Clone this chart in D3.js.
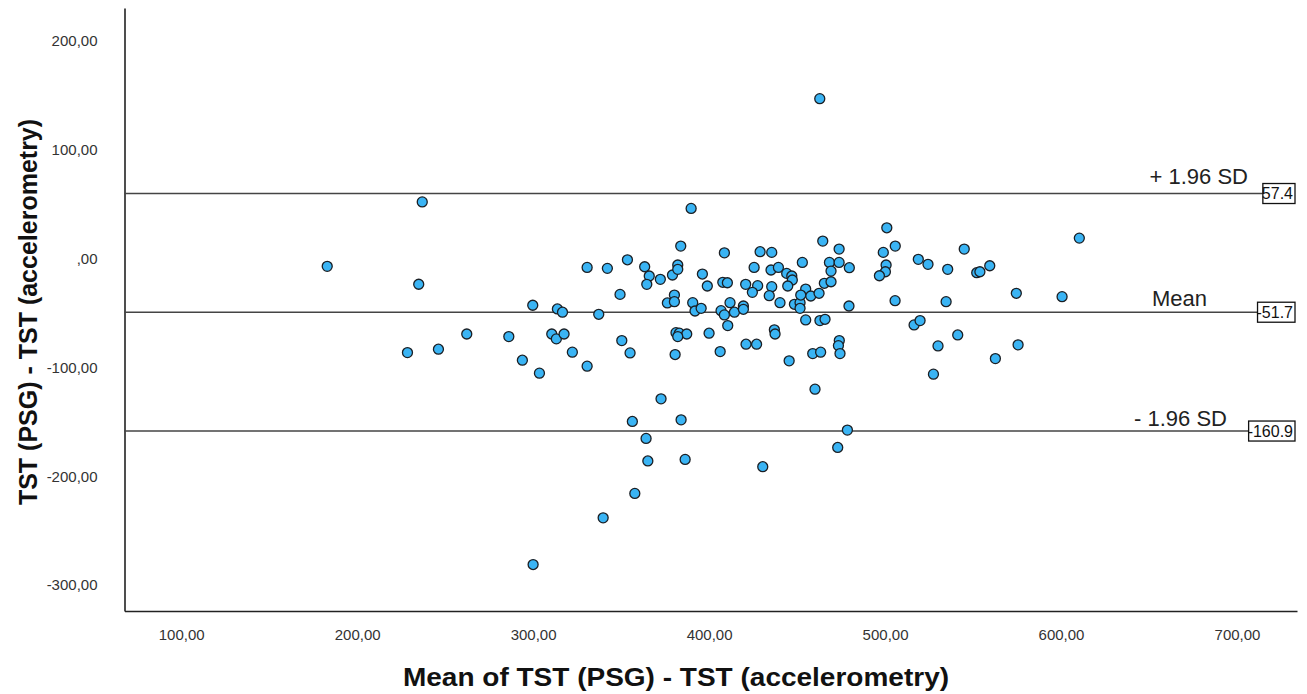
<!DOCTYPE html>
<html>
<head>
<meta charset="utf-8">
<script src="https://cdn.jsdelivr.net/npm/d3@7"></script>
<style>
  body { margin: 0; background: #fff; }
  svg { display: block; font-family: Arial, "Liberation Sans", sans-serif; }
</style>
</head>
<body>
<div id="graphic"></div>
<script>
// x: mean of TST (PSG) and TST (accelerometry), y: their difference, one entry per subject
const meanTST = [
  183.0, 237.0, 235.0, 228.6, 246.2, 389.8, 383.9, 408.7, 429.0, 425.6,
  330.7, 342.2, 353.6, 363.4, 366.0, 364.6, 372.3, 379.2, 382.2, 382.2,
  396.2, 399.0, 407.8, 410.4, 420.8, 427.6, 424.6, 349.4, 299.8, 313.8,
  316.7, 337.3, 380.3, 376.3, 380.3, 390.7, 392.0, 395.5, 406.8, 408.7,
  411.9, 414.4, 419.5, 419.5, 410.6, 262.3, 286.2, 293.9, 303.6, 310.6,
  313.2, 317.6, 322.3, 330.7, 350.4, 355.1, 381.2, 383.1, 387.3, 382.2,
  380.7, 400.0, 406.3, 421.0, 427.0, 372.7, 356.4, 384.1, 364.2, 365.2,
  386.4, 430.5, 357.8, 339.8, 300.0, 462.9, 501.0, 610.4, 464.6, 473.9,
  499.0, 505.8, 545.0, 435.6, 453.0, 468.4, 473.9, 479.7, 518.9, 524.4,
  535.6, 559.5, 552.1, 553.9, 500.6, 500.2, 496.8, 435.2, 439.4, 444.1,
  447.0, 447.3, 435.6, 434.2, 444.7, 440.3, 448.5, 451.7, 451.7, 454.9,
  452.1, 457.8, 462.5, 465.5, 469.3, 469.3, 479.5, 505.7, 534.7, 574.6,
  600.6, 454.9, 463.0, 465.9, 516.5, 519.9, 437.1, 437.5, 445.5, 458.9,
  463.4, 474.0, 473.5, 474.4, 460.2, 478.6, 473.1, 530.1, 541.3, 527.5,
  562.7, 575.6
];

const diffTST = [
  -9.5, 49.7, -26.0, -88.8, -85.7, 43.7, 9.1, 2.9, 3.9, -10.5,
  -10.5, -11.4, -3.5, -9.9, -18.4, -26.1, -21.5, -17.5, -8.3, -12.3,
  -16.6, -27.6, -24.2, -24.6, -26.1, -27.3, -33.4, -35.3, -45.3, -48.7,
  -51.7, -53.6, -35.9, -43.2, -42.0, -42.9, -50.6, -48.1, -50.3, -54.2,
  -42.9, -51.7, -46.0, -49.0, -64.0, -71.7, -74.1, -95.8, -107.7, -71.7,
  -76.2, -71.7, -88.4, -101.3, -77.8, -89.1, -70.5, -71.0, -71.7, -74.1,
  -90.6, -71.0, -87.9, -81.1, -81.1, -131.3, -152.1, -150.6, -167.7, -188.4,
  -187.0, -193.7, -218.2, -240.7, -283.6, 144.6, 25.9, 16.4, 13.7, 6.3,
  3.3, 9.1, 6.3, 3.3, -5.9, -5.9, -5.9, -10.8, -3.1, -7.7,
  -12.3, -9.0, -15.4, -14.5, -8.3, -14.5, -18.2, -12.9, -10.5, -16.0,
  -18.4, -22.1, -28.2, -36.5, -27.6, -42.9, -44.4, -42.9, -48.1, -30.4,
  -35.9, -36.8, -34.3, -25.1, -23.7, -13.9, -46.0, -41.1, -42.0, -34.3,
  -37.4, -58.8, -59.4, -58.2, -63.4, -59.4, -67.9, -71.7, -96.4, -89.7,
  -88.4, -77.8, -82.4, -89.7, -122.4, -160.0, -176.0, -82.7, -72.6, -108.6,
  -94.3, -81.7
];

const xTicks = [100, 200, 300, 400, 500, 600, 700];
const yTicks = [200, 100, 0, -100, -200, -300];

// limits of agreement and the mean difference
const limitValues = [57.4, -51.7, -160.9];
const limitNames = ['+ 1.96 SD', 'Mean', '- 1.96 SD'];
const limitTags = ['57.4', '-51.7', '-160.9'];
const limitNameRight = [1248, 1207, 1227];
const limitNameLift = [10, 6, 5];

const width = 1307;
const height = 694;
const plot = { left: 124.5, right: 1297, top: 8, bottom: 611 };

const x = d3.scaleLinear()
  .domain([67.8, 734.1])
  .range([plot.left, plot.right]);

const y = d3.scaleLinear()
  .domain([-326.3, 227.9])
  .range([plot.bottom, plot.top]);

// spss style numbers: comma decimal, plain hyphen, ",00" for zero
const locale = d3.formatLocale({ decimal: ',', thousands: '.', grouping: [3], currency: ['', ''], minus: '-' });
const fmt = (d) => {
  const s = locale.format('.2f')(d);
  return d === 0 ? s.slice(1) : s;
};

const svg = d3.select('#graphic').append('svg')
  .attr('width', width)
  .attr('height', height);

svg.append('rect')
  .attr('width', width)
  .attr('height', height)
  .attr('fill', '#fff');

// axes
const xAxis = d3.axisBottom(x).tickValues(xTicks).tickFormat(fmt).tickSize(0).tickPadding(18);
const yAxis = d3.axisLeft(y).tickValues(yTicks).tickFormat(fmt).tickSize(0).tickPadding(27);

const gx = svg.append('g')
  .attr('transform', 'translate(0,' + plot.bottom + ')')
  .call(xAxis);

const gy = svg.append('g')
  .attr('transform', 'translate(' + plot.left + ',0)')
  .call(yAxis);

[gx, gy].forEach((g) => {
  g.select('.domain').attr('stroke', '#222').attr('stroke-width', 1.6);
  g.selectAll('text')
    .attr('fill', '#333')
    .style('font-size', '15px');
});
gy.selectAll('text').attr('dy', '0.5em');

// reference lines with their tags
const limits = svg.selectAll('.limit')
  .data(limitValues)
  .enter()
  .append('g')
  .attr('class', 'limit');

limits.each(function (d, i) {
  const g = d3.select(this);
  const yy = y(d);

  const tag = g.append('text')
    .attr('x', plot.right - 4)
    .attr('y', yy)
    .attr('dy', '0.36em')
    .attr('text-anchor', 'end')
    .style('font-size', '16px')
    .attr('fill', '#111')
    .text(limitTags[i]);

  const tw = tag.node().getComputedTextLength();
  const boxLeft = plot.right - 2 - tw - 1;

  g.insert('rect', 'text')
    .attr('x', boxLeft)
    .attr('y', yy - 10)
    .attr('width', plot.right - 2 - boxLeft)
    .attr('height', 20)
    .attr('fill', '#fff')
    .attr('stroke', '#111')
    .attr('stroke-width', 1.3);

  g.insert('line', 'rect')
    .attr('x1', plot.left)
    .attr('x2', boxLeft)
    .attr('y1', yy)
    .attr('y2', yy)
    .attr('stroke', '#444')
    .attr('stroke-width', 1.6);

  g.append('text')
    .attr('x', limitNameRight[i])
    .attr('y', yy - limitNameLift[i])
    .attr('text-anchor', 'end')
    .style('font-size', '22px')
    .attr('fill', '#222')
    .text(limitNames[i]);
});

// points
svg.append('g')
  .selectAll('circle')
  .data(meanTST)
  .enter()
  .append('circle')
  .attr('cx', (d) => x(d))
  .attr('cy', (d, i) => y(diffTST[i]))
  .attr('r', 5)
  .attr('fill', '#3ab4f4')
  .attr('stroke', '#1b1f24')
  .attr('stroke-width', 1.3);

// axis titles (the x title is drawn a bit wider, like the source)
const xTitle = svg.append('text')
  .attr('x', 676)
  .attr('y', 686)
  .attr('text-anchor', 'middle')
  .style('font-size', '25px')
  .style('font-weight', 'bold')
  .attr('fill', '#111')
  .text('Mean of TST (PSG) - TST (accelerometry)');

xTitle
  .attr('textLength', xTitle.node().getComputedTextLength() * 1.12)
  .attr('lengthAdjust', 'spacingAndGlyphs');

svg.append('text')
  .attr('transform', 'translate(37,312) rotate(-90)')
  .attr('text-anchor', 'middle')
  .style('font-size', '25px')
  .style('font-weight', 'bold')
  .attr('fill', '#111')
  .text('TST (PSG) - TST (accelerometry)');
</script>
</body>
</html>
